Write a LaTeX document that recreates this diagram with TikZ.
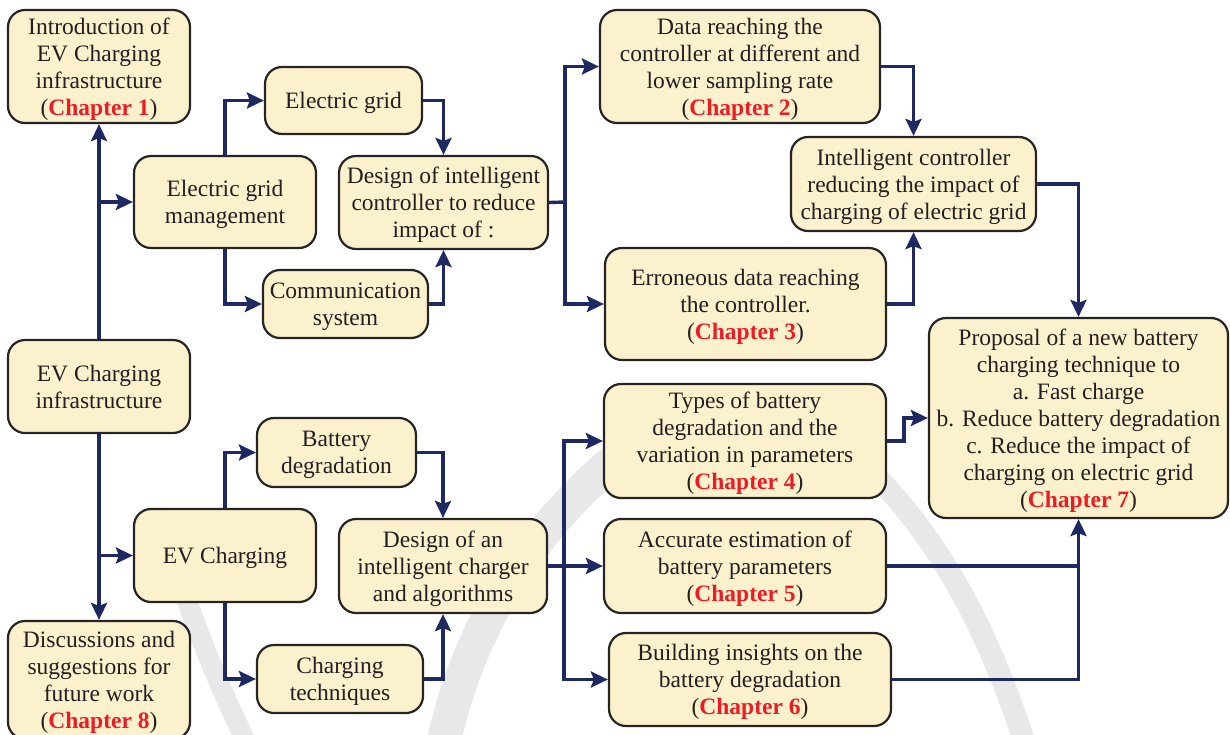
\documentclass[tikz,border=0pt]{standalone}
\usepackage{fontspec}
\setmainfont{Liberation Serif}
\usetikzlibrary{arrows.meta}

\definecolor{boxfill}{RGB}{252,241,205}
\definecolor{boxline}{RGB}{38,36,36}
\definecolor{navy}{RGB}{30,41,98}
\definecolor{chapred}{RGB}{237,28,36}
\definecolor{inktext}{RGB}{35,31,32}
\definecolor{wmgray}{RGB}{232,232,232}

\newcommand{\chapmark}[1]{(\textcolor{chapred}{\bfseries Chapter~#1})}

\tikzset{
  box/.style={draw=boxline, fill=boxfill, line width=2.2pt, rounded corners=17pt,
    align=center, inner sep=2pt, text=inktext, text depth=0pt,
    font=\fontsize{23.5}{27}\selectfont},
  link/.style={draw=navy, line width=3.4pt},
  arr/.style={link, -{Stealth[length=17pt, width=16pt, inset=3pt]}},
  emblem/.style={draw=wmgray, line cap=round},
}

\begin{document}
\begin{tikzpicture}[x=1pt, y=-1pt]
\useasboundingbox (0,0) rectangle (1230,734);

% faint emblem swirls in the background
\draw[emblem, line width=34pt] (640,440) .. controls (560,500) and (470,600) .. (440,760);
\draw[emblem, line width=22pt] (870,470) .. controls (940,540) and (990,630) .. (1030,760);
\draw[emblem, line width=20pt] (178,575) .. controls (200,640) and (225,700) .. (255,760);

% ---- boxes ----
\node[box, minimum width=182, minimum height=113] (intro) at (99,66.5)
  {Introduction of\\EV Charging\\infrastructure\\\chapmark{1}};
\node[box, minimum width=182, minimum height=92] (egm) at (225,202)
  {Electric grid\\management};
\node[box, minimum width=157, minimum height=67] (eg) at (343.5,100.5)
  {Electric grid};
\node[box, minimum width=165, minimum height=68] (comm) at (345.5,304)
  {Communication\\system};
\node[box, minimum width=209, minimum height=93] (dic) at (443.5,202.5)
  {Design of intelligent\\controller to reduce\\impact of :};
\node[box, minimum width=280, minimum height=113] (data) at (740,66.5)
  {Data reaching the\\controller at different and\\lower sampling rate\\\chapmark{2}};
\node[box, minimum width=245, minimum height=94] (icr) at (913.5,184)
  {Intelligent controller\\reducing the impact of\\charging of electric grid};
\node[box, minimum width=281, minimum height=112] (err) at (745.5,304)
  {Erroneous data reaching\\the controller.\\\chapmark{3}};
\node[box, minimum width=182, minimum height=93] (evi) at (99,386.5)
  {EV Charging\\infrastructure};
\node[box, minimum width=299, minimum height=200] (prop) at (1078.5,418)
  {Proposal of a new battery\\charging technique to\\a. Fast charge\\b. Reduce battery degradation\\c. Reduce the impact of\\charging on electric grid\\\chapmark{7}};
\node[box, minimum width=282, minimum height=114] (types) at (745,441)
  {Types of battery\\degradation and the\\variation in parameters\\\chapmark{4}};
\node[box, minimum width=159, minimum height=69] (bd) at (336.5,452.5)
  {Battery\\degradation};
\node[box, minimum width=182, minimum height=93] (evc) at (225,555.5)
  {EV Charging};
\node[box, minimum width=208, minimum height=94] (dch) at (443,566)
  {Design of an\\intelligent charger\\and algorithms};
\node[box, minimum width=282, minimum height=94] (acc) at (745,566)
  {Accurate estimation of\\battery parameters\\\chapmark{5}};
\node[box, minimum width=166, minimum height=68] (ct) at (340,679)
  {Charging\\techniques};
\node[box, minimum width=282, minimum height=93] (bi) at (750,679.5)
  {Building insights on the\\battery degradation\\\chapmark{6}};
\node[box, minimum width=182, minimum height=118] (disc) at (99,680)
  {Discussions and\\suggestions for\\future work\\\chapmark{8}};

% ---- junction points ----
\coordinate (jtop) at (565,202);
\coordinate (jbot) at (564,566);
\coordinate (jprop) at (1078.5,566);

% ---- connectors: grid branch ----
\draw[arr] (evi.north) -- (intro.south);
\draw[arr] (evi.north |- egm.west) -- (egm.west);
\draw[arr] (egm.north) |- (eg.west);
\draw[arr] (egm.south) |- (comm.west);
\draw[arr] (eg.east) -| (dic.north);
\draw[arr] (comm.east) -| (dic.south);
\draw[link] (dic.east) -- (jtop);
\draw[arr] (jtop) |- (data.west);
\draw[arr] (jtop) |- (err.west);
\draw[arr] (data.east) -| (icr.north);
\draw[arr] (err.east) -| (icr.south);
\draw[arr] (icr.east) -| (prop.north);

% ---- connectors: charging branch ----
\draw[arr] (evi.south) -- (disc.north);
\draw[arr] (evi.south |- evc.west) -- (evc.west);
\draw[arr] (evc.north) |- (bd.west);
\draw[arr] (evc.south) |- (ct.west);
\draw[arr] (bd.east) -| (dch.north);
\draw[arr] (ct.east) -| (dch.south);
\draw[arr] (dch.east) -- (acc.west);
\draw[arr] (jbot) |- (types.west);
\draw[arr] (jbot) |- (bi.west);
\draw[arr] (types.east) -- ++(17,0) |- (prop.west);
\draw[link] (acc.east) -- (jprop);
\draw[arr] (bi.east) -| (prop.south);
\end{tikzpicture}
\end{document}
